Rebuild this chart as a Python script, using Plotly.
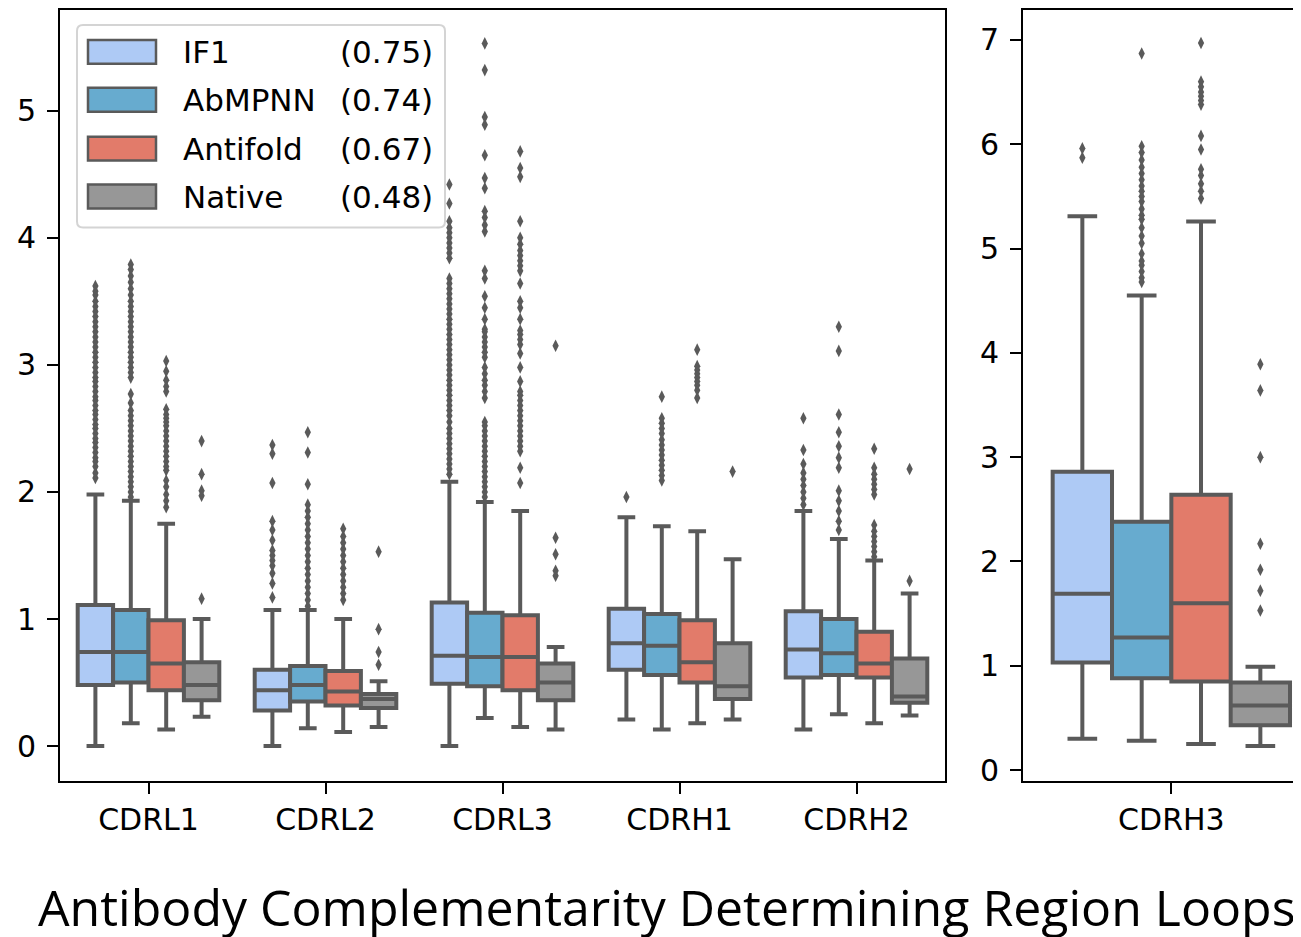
import plotly.graph_objects as go

# ---------------- data ----------------
categories_left = ["CDRL1", "CDRL2", "CDRL3", "CDRH1", "CDRH2"]
categories_right = ["CDRH3"]
models = ["IF1", "AbMPNN", "Antifold", "Native"]
model_scores = ["(0.75)", "(0.74)", "(0.67)", "(0.48)"]

# stats per model over [CDRL1, CDRL2, CDRL3, CDRH1, CDRH2, CDRH3]
if1_q1 = [0.48, 0.28, 0.49, 0.60, 0.54, 1.03]
if1_med = [0.74, 0.44, 0.71, 0.81, 0.76, 1.69]
if1_q3 = [1.11, 0.60, 1.13, 1.08, 1.06, 2.86]
if1_lo = [0.00, 0.00, 0.00, 0.21, 0.13, 0.30]
if1_hi = [1.98, 1.07, 2.08, 1.80, 1.85, 5.31]

abm_q1 = [0.50, 0.35, 0.47, 0.56, 0.56, 0.88]
abm_med = [0.74, 0.48, 0.70, 0.79, 0.73, 1.27]
abm_q3 = [1.07, 0.63, 1.05, 1.04, 1.00, 2.38]
abm_lo = [0.18, 0.14, 0.22, 0.13, 0.25, 0.28]
abm_hi = [1.93, 1.07, 1.92, 1.73, 1.63, 4.55]

af_q1 = [0.44, 0.32, 0.44, 0.50, 0.54, 0.85]
af_med = [0.65, 0.43, 0.70, 0.66, 0.65, 1.60]
af_q3 = [0.99, 0.59, 1.03, 0.99, 0.90, 2.64]
af_lo = [0.13, 0.11, 0.15, 0.18, 0.18, 0.25]
af_hi = [1.75, 1.00, 1.85, 1.69, 1.46, 5.26]

nat_q1 = [0.36, 0.30, 0.36, 0.37, 0.34, 0.43]
nat_med = [0.48, 0.37, 0.50, 0.47, 0.39, 0.62]
nat_q3 = [0.66, 0.41, 0.65, 0.81, 0.69, 0.84]
nat_lo = [0.23, 0.15, 0.13, 0.21, 0.24, 0.23]
nat_hi = [1.00, 0.51, 0.78, 1.47, 1.20, 0.99]

# outliers per model, per category
if1_out = [
    [2.11, 2.15, 2.2, 2.24, 2.27, 2.31, 2.35, 2.39, 2.42, 2.46, 2.5, 2.53, 2.57, 2.61, 2.64, 2.68, 2.72, 2.75,
     2.79, 2.83, 2.87, 2.9, 2.94, 2.98, 3.02, 3.06, 3.1, 3.14, 3.18, 3.22, 3.26, 3.3, 3.34, 3.38, 3.42, 3.46,
     3.5, 3.55, 3.58, 3.62],
    [1.17, 1.28, 1.36, 1.42, 1.46, 1.5, 1.54, 1.62, 1.7, 1.77, 2.07, 2.30, 2.37],
    [2.14, 2.18, 2.22, 2.26, 2.3, 2.34, 2.38, 2.42, 2.46, 2.5, 2.55, 2.6, 2.64, 2.68, 2.72, 2.76, 2.8, 2.84,
     2.88, 2.92, 2.96, 3.0, 3.04, 3.08, 3.12, 3.16, 3.2, 3.24, 3.28, 3.32, 3.36, 3.4, 3.44, 3.48, 3.52, 3.56,
     3.6, 3.64, 3.68, 3.84, 3.88, 3.92, 3.96, 4.0, 4.04, 4.08, 4.13, 4.27, 4.42],
    [1.96],
    [1.9, 1.95, 2.0, 2.05, 2.1, 2.15, 2.22, 2.33, 2.58],
    [5.87, 5.96],
]
abm_out = [
    [1.96, 2.0, 2.04, 2.08, 2.12, 2.16, 2.2, 2.24, 2.28, 2.32, 2.36, 2.4, 2.44, 2.48, 2.52, 2.56, 2.6, 2.64,
     2.7, 2.77, 2.9, 2.94, 2.98, 3.02, 3.06, 3.1, 3.14, 3.18, 3.22, 3.26, 3.3, 3.34, 3.38, 3.42, 3.46, 3.5,
     3.55, 3.6, 3.65, 3.7, 3.75, 3.79],
    [1.1, 1.15, 1.2, 1.25, 1.3, 1.35, 1.4, 1.45, 1.5, 1.55, 1.6, 1.65, 1.7, 1.75, 1.8, 1.85, 1.9, 2.06, 2.31,
     2.47],
    [1.96, 2.0, 2.04, 2.08, 2.12, 2.16, 2.2, 2.24, 2.28, 2.32, 2.36, 2.4, 2.44, 2.48, 2.52, 2.55, 2.74, 2.79,
     2.84, 2.88, 2.93, 2.98, 3.06, 3.1, 3.14, 3.18, 3.22, 3.26, 3.28, 3.36, 3.45, 3.54, 3.68, 3.74, 4.05, 4.1,
     4.16, 4.21, 4.39, 4.47, 4.65, 4.89, 4.95, 5.32, 5.53],
    [2.09, 2.13, 2.17, 2.21, 2.25, 2.29, 2.33, 2.37, 2.41, 2.46, 2.5, 2.54, 2.58, 2.75],
    [1.70, 1.77, 1.85, 1.93, 2.01, 2.19, 2.27, 2.36, 2.47, 2.61, 3.11, 3.30],
    [4.68, 4.72, 4.78, 4.84, 4.88, 4.95, 5.05, 5.12, 5.2, 5.28, 5.32, 5.38, 5.45, 5.5, 5.55, 5.6, 5.66, 5.72,
     5.78, 5.85, 5.92, 5.98, 6.87],
]
af_out = [
    [1.88, 1.93, 1.98, 2.04, 2.09, 2.17, 2.2, 2.24, 2.28, 2.32, 2.36, 2.4, 2.44, 2.48, 2.52, 2.55, 2.58, 2.61,
     2.65, 2.79, 2.83, 2.88, 2.95, 3.03],
    [1.15, 1.2, 1.25, 1.3, 1.35, 1.4, 1.45, 1.5, 1.55, 1.6, 1.65, 1.71],
    [2.07, 2.19, 2.32, 2.36, 2.4, 2.44, 2.48, 2.52, 2.56, 2.6, 2.64, 2.68, 2.72, 2.76, 2.79, 2.87, 2.98, 3.09,
     3.16, 3.2, 3.24, 3.27, 3.36, 3.45, 3.5, 3.64, 3.74, 3.78, 3.82, 3.86, 3.9, 3.95, 4.0, 4.13, 4.48, 4.55,
     4.68],
    [2.74, 2.8, 2.84, 2.87, 2.9, 2.93, 2.96, 2.99, 3.12],
    [1.49, 1.53, 1.57, 1.61, 1.65, 1.69, 1.74, 1.98, 2.02, 2.06, 2.1, 2.14, 2.19, 2.34],
    [5.48, 5.55, 5.62, 5.7, 5.76, 5.95, 6.08, 6.38, 6.42, 6.46, 6.5, 6.55, 6.6, 6.97],
]
nat_out = [
    [1.16, 1.97, 2.01, 2.14, 2.40],
    [0.64, 0.74, 0.92, 1.53],
    [1.34, 1.38, 1.51, 1.64, 3.15],
    [2.16],
    [1.30, 2.18],
    [1.53, 1.72, 1.92, 2.17, 3.0, 3.64, 3.89],
]

y_ticks_left = [0, 1, 2, 3, 4, 5]
y_ticks_right = [0, 1, 2, 3, 4, 5, 6, 7]
xlabel = "Antibody Complementarity Determining Region Loops"

# ---------------- styling ----------------
fills = ["#aecaf5", "#67abcf", "#e27b6a", "#979797"]
edge = "#5a5a5a"
FONT = "DejaVu Sans"
TITLE_FONT = "Open Sans"
OFF = 8  # page body margin
W, H = 1301 - OFF, 937 - OFF
ML, MR, MT, MB = 60 - OFF, 0, 8 - OFF, 937 - 781
PW, PH = W - ML - MR, H - MT - MB

stats = [
    (if1_q1, if1_med, if1_q3, if1_lo, if1_hi, if1_out),
    (abm_q1, abm_med, abm_q3, abm_lo, abm_hi, abm_out),
    (af_q1, af_med, af_q3, af_lo, af_hi, af_out),
    (nat_q1, nat_med, nat_q3, nat_lo, nat_hi, nat_out),
]

n_left = len(categories_left)
box_w = 0.2
fig = go.Figure()

for j, (q1, med, q3, lo, hi, outs) in enumerate(stats):
    off = (j - 1.5) * box_w
    xs = [i + off for i in range(n_left)]
    fig.add_trace(go.Box(
        x=xs, q1=q1[:n_left], median=med[:n_left], q3=q3[:n_left],
        lowerfence=lo[:n_left], upperfence=hi[:n_left],
        width=box_w, fillcolor=fills[j], line=dict(color=edge, width=4),
        whiskerwidth=0.5, boxpoints=False, name=models[j], showlegend=False,
        xaxis="x", yaxis="y", hoverinfo="skip"))
    fig.add_trace(go.Box(
        x=[off], q1=q1[n_left:], median=med[n_left:], q3=q3[n_left:],
        lowerfence=lo[n_left:], upperfence=hi[n_left:],
        width=box_w, fillcolor=fills[j], line=dict(color=edge, width=4),
        whiskerwidth=0.5, boxpoints=False, name=models[j], showlegend=False,
        xaxis="x2", yaxis="y2", hoverinfo="skip"))
    ox, oy = [], []
    for i in range(n_left):
        ox += [i + off] * len(outs[i])
        oy += outs[i]
    fig.add_trace(go.Scatter(x=ox, y=oy, mode="markers",
                             marker=dict(symbol="diamond-tall", size=9, color=edge, line=dict(width=0)),
                             showlegend=False, xaxis="x", yaxis="y", hoverinfo="skip"))
    fig.add_trace(go.Scatter(x=[off] * len(outs[n_left]), y=outs[n_left], mode="markers",
                             marker=dict(symbol="diamond-tall", size=9, color=edge, line=dict(width=0)),
                             showlegend=False, xaxis="x2", yaxis="y2", hoverinfo="skip"))


def px(X):
    return (X - OFF - ML) / PW


def py(Y):
    return (H - MB - (Y - OFF)) / PH


left_dom = [0, px(945)]
right_dom = [px(1023), 1.0]

axis_common = dict(showgrid=False, zeroline=False, showline=True, linecolor="black", linewidth=2,
                   ticks="outside", ticklen=11, tickwidth=2, tickcolor="black",
                   tickfont=dict(family=FONT, size=30, color="black"))

fig.update_layout(
    width=W, height=H, margin=dict(l=ML, r=MR, t=MT, b=MB, pad=0),
    plot_bgcolor="white", paper_bgcolor="white", boxmode="overlay", showlegend=False,
    xaxis=dict(domain=left_dom, range=[-0.5, n_left - 0.5], tickvals=list(range(n_left)),
               ticktext=categories_left, mirror=True, ticklabelstandoff=0, **axis_common),
    yaxis=dict(range=[-0.275, 5.793], tickvals=y_ticks_left, mirror=True, ticklabelstandoff=5,
               **axis_common),
    xaxis2=dict(domain=right_dom, range=[-0.5, 0.437], tickvals=[0], ticktext=categories_right,
                anchor="y2", mirror=True, ticklabelstandoff=0, **axis_common),
    yaxis2=dict(range=[-0.105, 7.287], tickvals=y_ticks_right, anchor="x2", mirror=False,
                ticklabelstandoff=5, **axis_common),
)

# legend (drawn manually to mimic two-column layout)
shapes = []
x0, x1, y0, y1, r = 77, 445, 23, 226, 6
path = (f"M {px(x0 + r)},{py(y0)} L {px(x1 - r)},{py(y0)} Q {px(x1)},{py(y0)} {px(x1)},{py(y0 + r)} "
        f"L {px(x1)},{py(y1 - r)} Q {px(x1)},{py(y1)} {px(x1 - r)},{py(y1)} "
        f"L {px(x0 + r)},{py(y1)} Q {px(x0)},{py(y1)} {px(x0)},{py(y1 - r)} "
        f"L {px(x0)},{py(y0 + r)} Q {px(x0)},{py(y0)} {px(x0 + r)},{py(y0)} Z")
shapes.append(dict(type="path", xref="paper", yref="paper", path=path,
                   line=dict(color="#d4d4d4", width=2), fillcolor="rgba(255,255,255,0.8)", layer="above"))
row_y = [50, 98, 147, 195]
annotations = []
for j in range(len(models)):
    cy = row_y[j]
    shapes.append(dict(type="rect", xref="paper", yref="paper",
                       x0=px(88), x1=px(156), y0=py(cy + 12), y1=py(cy - 12),
                       fillcolor=fills[j], line=dict(color=edge, width=2.5), layer="above"))
    annotations.append(dict(x=px(181), y=py(cy), xref="paper", yref="paper", text=models[j],
                            showarrow=False, xanchor="left", yanchor="middle",
                            font=dict(family=FONT, size=31, color="black")))
    annotations.append(dict(x=px(338), y=py(cy), xref="paper", yref="paper", text=model_scores[j],
                            showarrow=False, xanchor="left", yanchor="middle",
                            font=dict(family=FONT, size=31, color="black")))

annotations.append(dict(x=px(36), y=py(907), xref="paper", yref="paper", text=xlabel,
                        showarrow=False, xanchor="left", yanchor="middle",
                        font=dict(family=TITLE_FONT, size=50, color="black")))

fig.update_layout(shapes=shapes, annotations=annotations)
fig.write_html("out.html")
